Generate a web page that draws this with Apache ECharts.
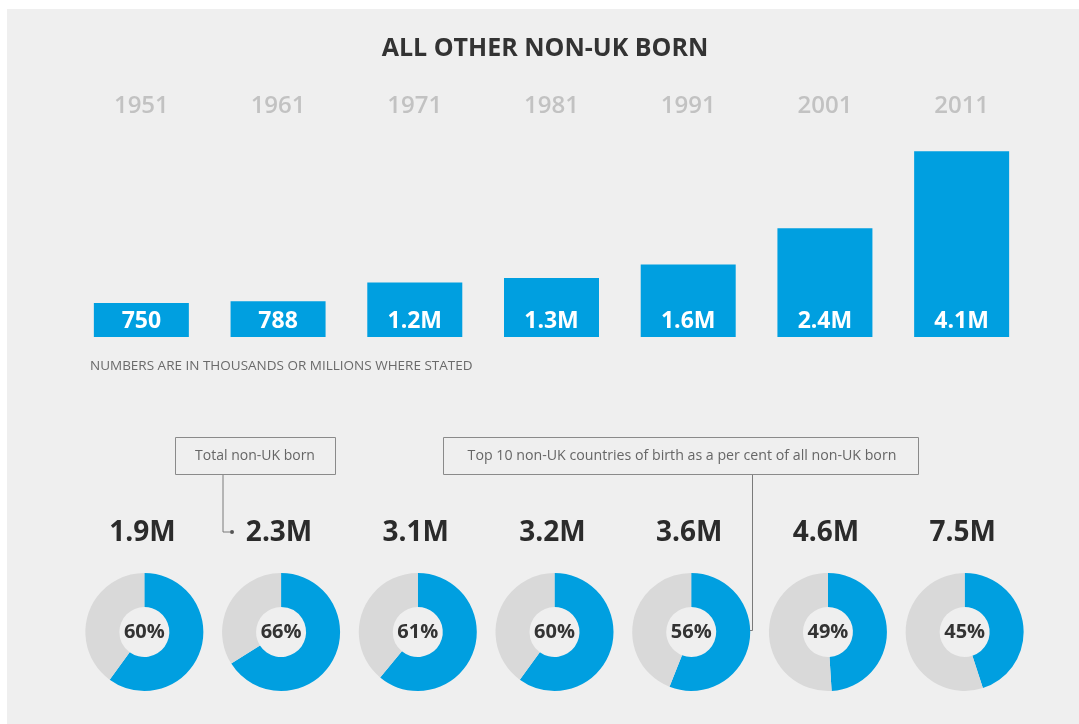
<!DOCTYPE html>
<html>
<head>
<meta charset="utf-8">
<script src="https://cdn.jsdelivr.net/npm/echarts@6/dist/echarts.min.js"></script>
<style>
  html, body { margin: 0; padding: 0; background: #ffffff; }
  #chart { width: 1079px; height: 724px; }
</style>
</head>
<body>
<div id="chart"></div>
<script>
// census years and non-UK born figures (thousands)
const years = ['1951', '1961', '1971', '1981', '1991', '2001', '2011'];
const otherBorn = [750, 788, 1200, 1300, 1600, 2400, 4100];
const otherLabels = ['750', '788', '1.2M', '1.3M', '1.6M', '2.4M', '4.1M'];
const totalLabels = ['1.9M', '2.3M', '3.1M', '3.2M', '3.6M', '4.6M', '7.5M'];
const top10Share = [60, 66, 61, 60, 56, 49, 45];

const BLUE = '#009fe0';
const GREY_RING = '#d9d9d9';
const FONT = '"Open Sans", "Noto Sans", sans-serif';

const gridLeft = 73, gridRight = 49;
const step = (1079 - gridLeft - gridRight) / years.length;
const centersX = years.map((y, i) => gridLeft + step * (i + 0.5));

var myChart = echarts.init(document.getElementById('chart'));

const titles = [{
  text: 'ALL OTHER NON-UK BORN',
  left: 540, top: 31, textAlign: 'center',
  textStyle: { fontFamily: FONT, fontSize: 25, fontWeight: 'bold', color: '#333333' }
}];
totalLabels.forEach((t, i) => {
  titles.push({
    text: t, left: centersX[i] - 4, top: 514, textAlign: 'center',
    textStyle: { fontFamily: FONT, fontSize: 28, fontWeight: 'bold', color: '#2b2b2b' }
  });
});

const pies = top10Share.map((v, i) => ({
  type: 'pie',
  center: [centersX[i] + 3, 632],
  radius: [25, 59],
  startAngle: 90,
  clockwise: true,
  silent: true,
  animation: false,
  label: { show: false },
  labelLine: { show: false },
  data: [
    {
      value: v, itemStyle: { color: BLUE },
      label: {
        show: true, position: 'center', formatter: v + '%',
        fontFamily: FONT, fontSize: 20, fontWeight: 'bold', color: '#333333'
      }
    },
    { value: 100 - v, itemStyle: { color: GREY_RING } }
  ]
}));

const option = {
  backgroundColor: '#ffffff',
  title: titles,
  grid: { left: gridLeft, right: gridRight, top: 133, bottom: 387 },
  xAxis: {
    type: 'category',
    position: 'top',
    data: years,
    axisLine: { show: false },
    axisTick: { show: false },
    axisLabel: { margin: 15, fontFamily: FONT, fontSize: 24, fontWeight: 600, color: '#c2c2c2' }
  },
  yAxis: {
    type: 'value', min: 0, max: 4500,
    show: false, splitLine: { show: false }
  },
  graphic: [
    { type: 'rect', z: -10, shape: { x: 7, y: 9, width: 1072, height: 715 }, style: { fill: '#efefef' } },
    {
      type: 'text', left: 90, top: 359,
      style: { text: 'NUMBERS ARE IN THOUSANDS OR MILLIONS WHERE STATED', fontFamily: '"Liberation Sans Narrow", ' + FONT, fontSize: 13.5, fill: '#6a6a6a' }
    },
    // annotation: total non-UK born
    { type: 'rect', shape: { x: 175.5, y: 437.5, width: 160, height: 37 }, style: { fill: 'none', stroke: '#8a8a8a', lineWidth: 1 } },
    { type: 'text', x: 255, y: 456, style: { text: 'Total non-UK born', align: 'center', verticalAlign: 'middle', fontFamily: FONT, fontSize: 14, fill: '#666666' } },
    { type: 'polyline', shape: { points: [[223, 475], [223, 532], [230, 532]] }, style: { fill: 'none', stroke: '#7a7a7a', lineWidth: 1 } },
    { type: 'circle', shape: { cx: 232, cy: 532, r: 2 }, style: { fill: '#555555' } },
    // annotation: top 10 share
    { type: 'rect', shape: { x: 443.5, y: 437.5, width: 475, height: 37 }, style: { fill: 'none', stroke: '#8a8a8a', lineWidth: 1 } },
    { type: 'text', x: 682, y: 456, style: { text: 'Top 10 non-UK countries of birth as a per cent of all non-UK born', align: 'center', verticalAlign: 'middle', fontFamily: FONT, fontSize: 14.2, fill: '#666666' } },
    { type: 'polyline', shape: { points: [[752.5, 475], [752.5, 630.5], [737, 630.5]] }, style: { fill: 'none', stroke: '#7a7a7a', lineWidth: 1 } },
    { type: 'circle', shape: { cx: 736, cy: 630.5, r: 2.2 }, style: { fill: '#555555' } }
  ],
  series: [
    {
      type: 'bar',
      data: otherBorn,
      barWidth: 95,
      silent: true,
      animation: false,
      itemStyle: { color: BLUE },
      label: {
        show: true,
        position: 'insideBottom',
        distance: 4,
        formatter: function (p) { return otherLabels[p.dataIndex]; },
        fontFamily: FONT, fontSize: 23, fontWeight: 'bold', color: '#ffffff'
      }
    }
  ].concat(pies)
};

myChart.setOption(option);
</script>
</body>
</html>
